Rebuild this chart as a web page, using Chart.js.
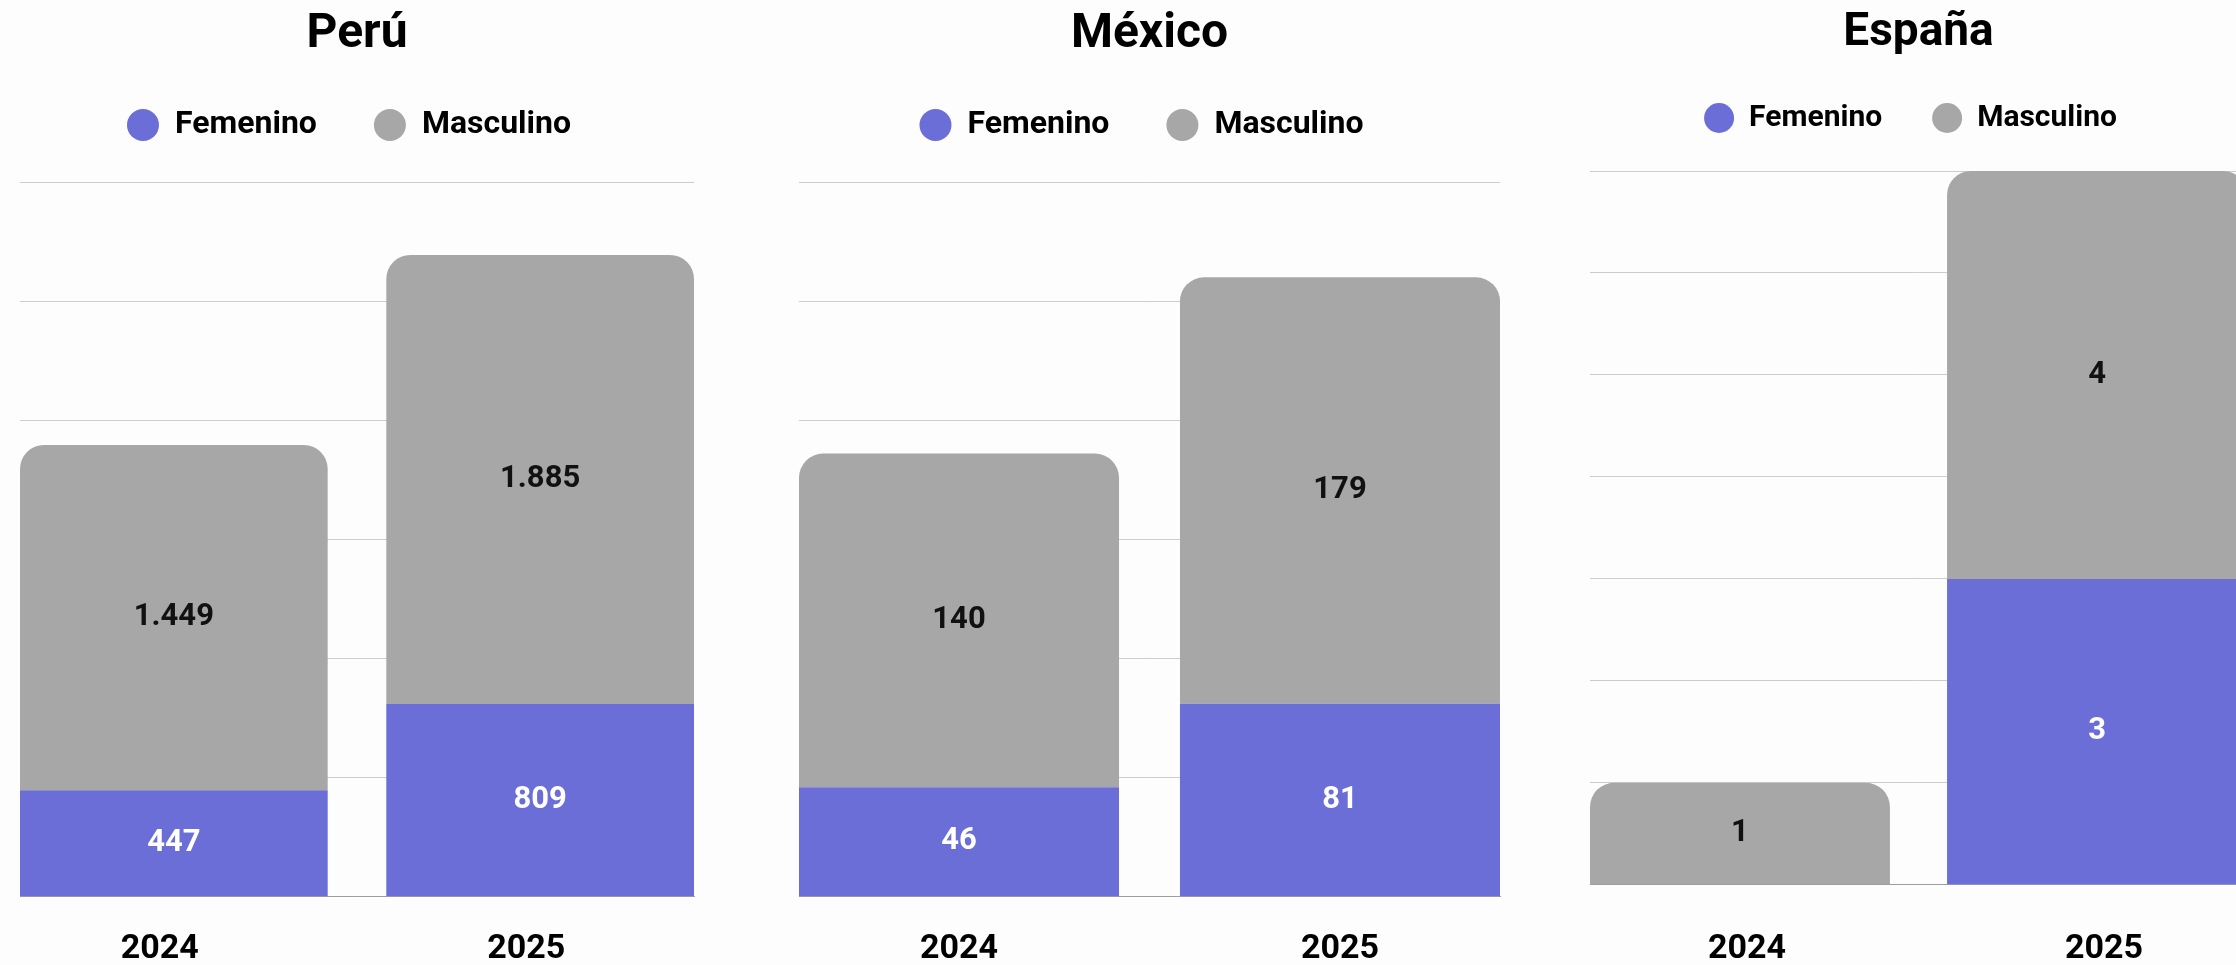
<!DOCTYPE html>
<html lang="es">
<head>
<meta charset="utf-8">
<title>Femenino y Masculino por país</title>
<script src="https://cdn.jsdelivr.net/npm/chart.js@4.4.1/dist/chart.umd.min.js"></script>
<style>
  html, body { margin: 0; padding: 0; background: #fdfdfd; width: 2236px; height: 965px; overflow: hidden; }
  .panel { position: absolute; top: 0; height: 1040px; }
  #panelPeru { left: 0; width: 714px; }
  #panelMexico { left: 779px; width: 741px; }
  #panelEspana { left: 1570px; width: 697px; }
</style>
</head>
<body>
<div class="panel" id="panelPeru"><canvas id="chartPeru"></canvas></div>
<div class="panel" id="panelMexico"><canvas id="chartMexico"></canvas></div>
<div class="panel" id="panelEspana"><canvas id="chartEspana"></canvas></div>

<script>
  /* Data */
  var years = ['2024', '2025'];
  var peruFemenino = [447, 809];
  var peruMasculino = [1449, 1885];
  var mexicoFemenino = [46, 81];
  var mexicoMasculino = [140, 179];
  var espanaFemenino = [0, 3];
  var espanaMasculino = [1, 4];

  var colorFemenino = '#6a6ed6';
  var colorMasculino = '#a6a7a6';
  var barPct = 0.84;

  Chart.defaults.font.family = 'Roboto, sans-serif';
  Chart.defaults.color = '#000';

  // 1449 -> "1.449"
  function formatValue(v) {
    return String(v).replace(/\B(?=(\d{3})+(?!\d))/g, '.');
  }

  function points(values) {
    return years.map(function (y, i) { return { x: i, y: values[i] }; });
  }

  /* Value inside each segment */
  var segmentLabels = {
    id: 'segmentLabels',
    afterDatasetsDraw: function (chart) {
      var ctx = chart.ctx;
      chart.data.datasets.forEach(function (dataset, i) {
        var meta = chart.getDatasetMeta(i);
        meta.data.forEach(function (bar, index) {
          var value = dataset.data[index].y;
          if (!value) return;
          ctx.save();
          ctx.fillStyle = dataset.labelColor;
          ctx.font = 'bold 31px Roboto, sans-serif';
          ctx.textAlign = 'center';
          ctx.textBaseline = 'middle';
          ctx.fillText(formatValue(value), bar.x, (bar.y + bar.base) / 2);
          ctx.restore();
        });
      });
    }
  };

  /* Extra room under the legend, and a small nudge to the left */
  function legendPlacement(gap, shift) {
    return {
      id: 'legendPlacement',
      beforeInit: function (chart) {
        var fit = chart.legend.fit;
        chart.legend.fit = function () {
          fit.call(this);
          this.height += gap;
        };
      },
      afterLayout: function (chart) {
        chart.legend.left -= shift;
        chart.legend.right -= shift;
      }
    };
  }

  function buildChart(id, fem, masc, o) {
    new Chart(document.getElementById(id), {
      type: 'bar',
      data: {
        datasets: [{
          label: 'Femenino',
          data: points(fem),
          backgroundColor: colorFemenino,
          labelColor: '#ffffff',
          borderWidth: 0,
          borderRadius: 0
        }, {
          label: 'Masculino',
          data: points(masc),
          backgroundColor: colorMasculino,
          labelColor: '#111111',
          borderWidth: 0,
          borderRadius: { topLeft: 24, topRight: 24, bottomLeft: 0, bottomRight: 0 }
        }]
      },
      options: {
        responsive: true,
        maintainAspectRatio: false,
        animation: false,
        barPercentage: barPct,
        categoryPercentage: 1,
        layout: { padding: { left: 20, right: 20, top: 0, bottom: o.bottom } },
        plugins: {
          title: {
            display: true,
            text: o.title,
            color: '#000',
            font: { size: o.titleSize, weight: 'bold' },
            padding: { top: o.titleTop, bottom: o.titleBottom }
          },
          legend: {
            labels: {
              usePointStyle: true,
              pointStyle: 'circle',
              pointStyleWidth: o.dot,
              boxHeight: o.dot / Math.SQRT2,
              color: '#000',
              font: { size: o.legendSize, weight: 'bold' },
              padding: o.legendPad
            }
          },
          tooltip: { enabled: false }
        },
        scales: {
          x: {
            type: 'linear',
            stacked: true,
            offset: false,
            min: -barPct / 2,
            max: years.length - 1 + barPct / 2,
            grid: { display: false, offset: false },
            border: { display: true, color: '#9e9e9e', width: 1 },
            ticks: {
              stepSize: 1,
              includeBounds: false,
              padding: o.tickPad,
              labelOffset: o.labelShift,
              color: '#000',
              font: { size: 34, weight: 'bold' },
              callback: function (v) { return years[v]; }
            }
          },
          y: {
            stacked: true,
            min: 0,
            max: o.max,
            grid: { color: '#cccccc', lineWidth: 1, drawTicks: false },
            border: { display: false },
            ticks: { display: false, stepSize: o.step }
          }
        }
      },
      plugins: [segmentLabels, legendPlacement(o.gap, 8)]
    });
  }

  buildChart('chartPeru', peruFemenino, peruMasculino, {
    title: 'Perú', titleSize: 48, titleTop: 6, titleBottom: -11.6,
    legendSize: 32, dot: 32, legendPad: 57, gap: 31,
    max: 3000, step: 500, tickPad: 24.2, labelShift: -14, bottom: 46
  });

  buildChart('chartMexico', mexicoFemenino, mexicoMasculino, {
    title: 'México', titleSize: 48, titleTop: 6, titleBottom: -11.6,
    legendSize: 32, dot: 32, legendPad: 57, gap: 31,
    max: 300, step: 50, tickPad: 24.2, labelShift: 0, bottom: 46
  });

  buildChart('chartEspana', espanaFemenino, espanaMasculino, {
    title: 'España', titleSize: 46, titleTop: 5.4, titleBottom: -7.6,
    legendSize: 30, dot: 30, legendPad: 50, gap: 28,
    max: 7, step: 1, tickPad: 36.2, labelShift: 7, bottom: 34
  });
</script>
</body>
</html>
